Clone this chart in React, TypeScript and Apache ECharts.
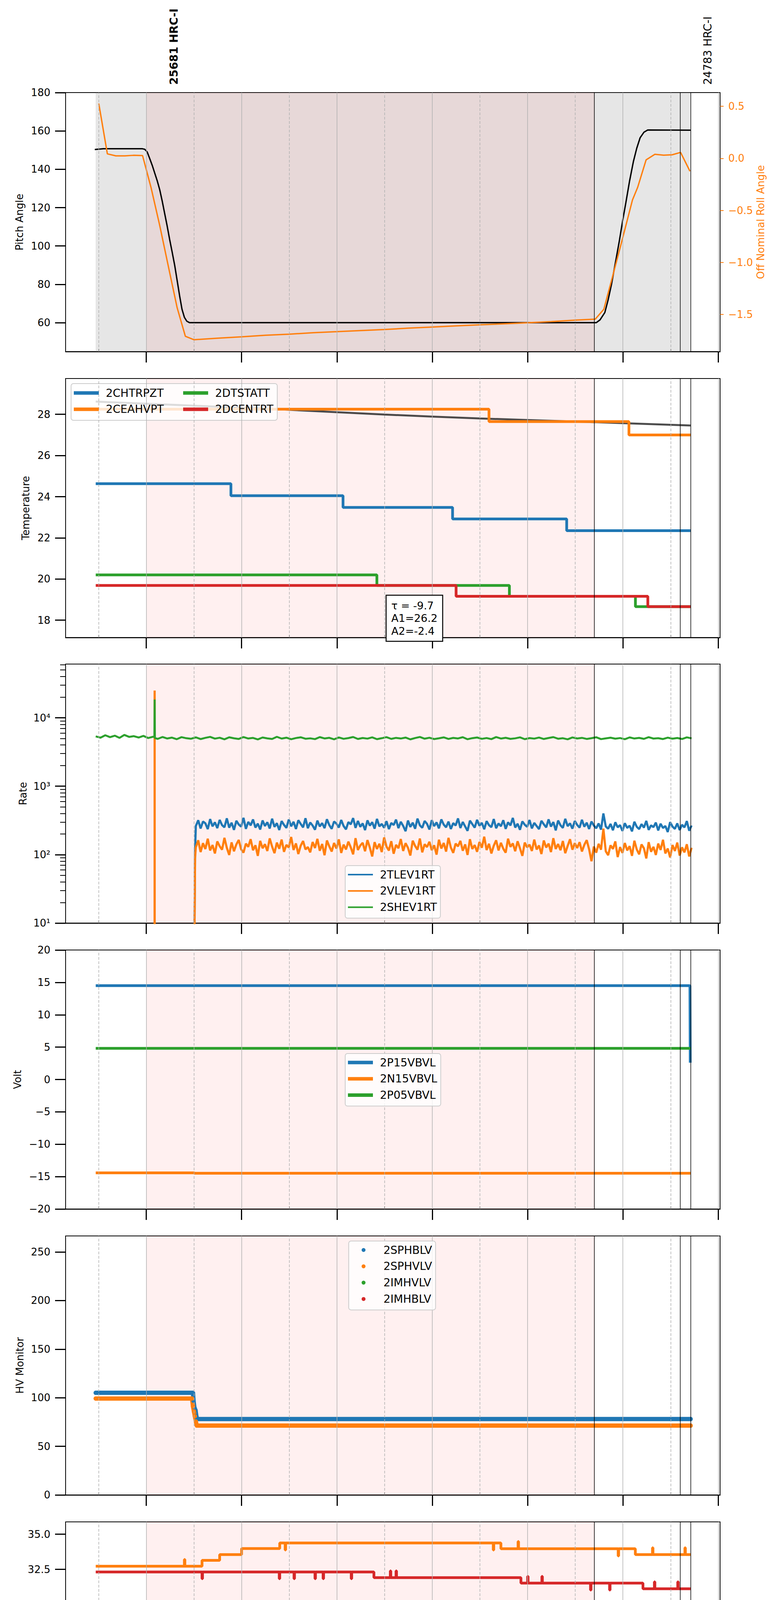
import React, { useEffect, useRef } from "react";
import * as echarts from "echarts";

const FONT = "DejaVu Sans";
const BLUE = "#1f77b4";
const ORANGE = "#ff7f0e";
const GREEN = "#2ca02c";
const RED = "#d62728";

// time axis: hours relative to 2021-08-12 00:00 (day 224)
const X_MIN = -0.846;
const X_MAX = 6.019;
const HOUR_TICKS = [0, 1, 2, 3, 4, 5, 6];
const HALF_TICKS = [-0.5, 0.5, 1.5, 2.5, 3.5, 4.5, 5.5];
const SLEW_SPAN = [-0.531, 5.705];
const OBS_SPAN = [0, 4.704];
const EVENT_TIMES = [4.704, 5.601, 5.705];
const OBS_NAMES = ["25681 HRC-I", "24783 HRC-I"];

// panel 1: pitch / off nominal roll
const PITCH = [[-0.54, 150.3], [-0.45, 150.7], [-0.04, 150.7], [-0.015, 150.4], [0.01, 149], [0.037, 145.5], [0.063, 142], [0.089, 138], [0.115, 134], [0.141, 129.4], [0.167, 123.5], [0.193, 117], [0.219, 110.5], [0.245, 103.5], [0.271, 97], [0.298, 90], [0.324, 82], [0.35, 74], [0.375, 67], [0.4, 62.8], [0.425, 60.8], [0.455, 60], [4.72, 60], [4.76, 61.5], [4.81, 65.3], [4.845, 72], [4.88, 80], [4.92, 91], [4.96, 102], [5.0, 114], [5.03, 122.4], [5.07, 134], [5.11, 144.1], [5.145, 151], [5.18, 156.4], [5.22, 159.3], [5.26, 160.5], [5.71, 160.4]];
const ROLL = [[-0.498, 0.527], [-0.408, 0.043], [-0.319, 0.024], [-0.224, 0.024], [-0.135, 0.029], [-0.039, 0.027], [0.05, -0.28], [0.14, -0.64], [0.245, -1.095], [0.324, -1.436], [0.41, -1.71], [0.5, -1.743], [0.75, -1.728], [1.0, -1.715], [1.25, -1.7], [1.5, -1.69], [1.75, -1.676], [2.0, -1.666], [2.25, -1.655], [2.5, -1.645], [2.75, -1.632], [3.0, -1.621], [3.25, -1.61], [3.5, -1.6], [3.75, -1.59], [4.0, -1.58], [4.25, -1.569], [4.5, -1.555], [4.71, -1.545], [4.8, -1.45], [4.89, -1.14], [5.0, -0.755], [5.1, -0.4], [5.154, -0.28], [5.243, -0.015], [5.335, 0.039], [5.427, 0.03], [5.516, 0.034], [5.605, 0.057], [5.703, -0.124]];
const PITCH_TICKS = [60, 80, 100, 120, 140, 160, 180];
const ROLL_TICKS = [-1.5, -1, -0.5, 0, 0.5];

// panel 2: temperature
const CHTRPZT = [[-0.53, 24.63], [0.888, 24.05], [2.064, 23.48], [3.213, 22.92], [4.41, 22.35], [5.71, 22.35]];
const CEAHVPT = [[-0.53, 28.25], [3.595, 27.65], [5.063, 27.0], [5.71, 27.0]];
const DTSTATT = [[-0.53, 20.2], [2.419, 19.69], [3.809, 19.16], [5.131, 18.66], [5.71, 18.66]];
const DCENTRT = [[-0.53, 19.69], [3.25, 19.16], [5.261, 18.66], [5.71, 18.66]];
const TEMP_FIT = [[-0.53, 28.62], [0.5, 28.42], [1.5, 28.22], [2.5, 27.99], [3.5, 27.8], [4.5, 27.65], [5.71, 27.46]];
const FIT_TEXT = ["τ = -9.7", "A1=26.2", "A2=-2.4"];
const TEMP_TICKS = [18, 20, 22, 24, 26, 28];

// panel 3: rates (evenly sampled)
const RATE_T0 = 0.52;
const RATE_DT = 0.025;
const TLEV1RT = [
  262, 318, 241, 305, 287, 236, 331, 259, 297, 244,
  322, 270, 251, 339, 248, 293, 230, 312, 276, 256,
  345, 238, 301, 268, 327, 249, 284, 233, 316, 262,
  297, 241, 335, 255, 288, 229, 309, 272, 246, 326,
  259, 302, 237, 318, 281, 250, 340, 243, 295, 266,
  231, 314, 258, 289, 244, 329, 270, 238, 305, 284,
  249, 321, 262, 234, 299, 277, 342, 246, 311, 255,
  286, 228, 317, 265, 298, 240, 333, 259, 281, 247,
  308, 236, 290, 271, 325, 244, 302, 263, 220, 315,
  254, 293, 239, 336, 268, 247, 310, 282, 233, 319,
  261, 296, 242, 327, 275, 251, 304, 237, 289, 266,
  338, 245, 300, 258, 223, 314, 279, 248, 323, 264,
  292, 235, 309, 270, 252, 331, 243, 286, 260, 318,
  238, 297, 267, 344, 249, 283, 231, 306, 274, 255,
  321, 242, 291, 262, 236, 312, 278, 250, 328, 257,
  299, 226, 315, 269, 246, 334, 261, 287, 240, 310,
  272, 248, 323, 256, 293, 237, 305, 266, 243, 286,
  232, 400, 258, 239, 281, 227, 297, 251, 270, 222,
  288, 246, 265, 219, 302, 255, 236, 279, 248, 311,
  230, 268, 252, 294, 226, 283, 245, 262, 214, 299,
  257, 238, 286, 229, 273, 250, 309, 224, 266,
];
const VLEV1RT = [
  128, 162, 109, 147, 121, 171, 115, 138, 104, 156,
  133, 118, 176, 126, 99, 151, 112, 141, 164, 120,
  107, 145, 130, 168, 116, 137, 96, 159, 124, 142,
  113, 173, 131, 105, 150, 122, 166, 110, 139, 127,
  181, 117, 146, 102, 135, 158, 119, 129, 108, 153,
  125, 170, 114, 143, 98, 161, 132, 111, 148, 123,
  167, 106, 140, 119, 155, 128, 101, 174, 117, 136,
  149, 112, 163, 127, 94, 152, 121, 144, 109, 178,
  131, 115, 157, 103, 139, 124, 169, 113, 147, 126,
  97, 160, 134, 118, 172, 108, 142, 129, 154, 116,
  137, 100, 165, 123, 148, 111, 176, 127, 106, 145,
  132, 159, 114, 141, 99, 168, 121, 138, 110, 153,
  126, 183, 117, 144, 104, 135, 162, 115, 149, 122,
  107, 171, 130, 146, 112, 157, 124, 96, 150, 128,
  140, 113, 166, 119, 136, 102, 161, 127, 145, 109,
  174, 121, 143, 116, 158, 105, 134, 168, 118, 147,
  125, 152, 111, 139, 163, 120, 80, 131, 107, 144,
  118, 240, 112, 98, 137, 121, 156, 92, 129, 106,
  148, 115, 133, 96, 160, 119, 101, 141, 124, 88,
  152, 110, 130, 99, 145, 117, 165, 104, 123, 91,
  138, 113, 150, 97, 128, 108, 142, 94, 126,
];
const SHEV_T0 = -0.53;
const SHEV_DT = 0.05;
const SHEV1RT = [
  5350, 5120, 5560, 5210, 5480, 5090, 5620, 5260, 5390, 5150,
  5440, 5060, 5280, 4920, 5240, 4980, 5130, 4870, 5210, 5030,
  4940, 5170, 4890, 5090, 5260, 4960, 5110, 4850, 5190, 5020,
  4910, 5230, 4980, 5080, 4830, 5150, 5000, 4900, 5270, 4970,
  5120, 4860, 5060, 5190, 4940, 5010, 4880, 5220, 4990, 5100,
  4850, 5160, 4930, 5050, 5240, 4900, 5070, 4960, 5180, 4870,
  5030, 5210, 4920, 5090, 4980, 5140, 4840, 5060, 5250, 4950,
  5110, 4890, 5020, 5170, 4910, 5080, 4990, 5200, 4860, 5040,
  5150, 4930, 5060, 4880, 5230, 4970, 5100, 4920, 5010, 5180,
  4870, 5050, 4960, 5140, 4900, 5070, 5220, 4940, 5030, 4850,
  5160, 4990, 5090, 4910, 5040, 5190, 4880, 5000, 5120, 4950,
  5060, 4860, 5170, 4980, 5080, 4920, 5210, 4970, 5030, 4890,
  5130, 4950, 5070, 4900, 5180, 5010,
];
const TLEV_EXTRA = [[0.505, 5], [0.512, 110]];
const VLEV_EXTRA = [[0.0875, 5], [0.088, 25000], [0.0885, 5], [0.089, "-"], [0.505, 5], [0.512, 90]];
const SHEV_EXTRA = [[0.085, 5250], [0.088, 18500], [0.091, 5050]];
const RATE_TICKS = [10, 100, 1000, 10000];
const RATE_MINOR = [20, 30, 40, 50, 60, 70, 80, 90, 200, 300, 400, 500, 600, 700, 800, 900, 2000, 3000, 4000, 5000, 6000, 7000, 8000, 9000, 20000, 30000, 40000, 50000, 60000];
const SUPERSCRIPT = ["⁰", "¹", "²", "³", "⁴", "⁵"];

// panel 4: volts
const P15VBVL = [[-0.53, 14.5], [5.703, 14.5], [5.706, 2.6]];
const N15VBVL = [[-0.53, -14.42], [0.5, -14.42], [0.51, -14.48], [5.71, -14.48]];
const P05VBVL = [[-0.53, 4.81], [5.71, 4.81]];
const VOLT_TICKS = [-20, -15, -10, -5, 0, 5, 10, 15, 20];

// panel 5: HV monitor
const SPHBLV = [[-0.53, 105.1], [0.49, 105.1], [0.496, 96.9], [0.505, 90], [0.517, 87], [0.525, 81.4], [0.533, 78.1], [5.71, 78.1]];
const SPHVLV = [[-0.53, 99.2], [0.48, 99.2], [0.49, 91.1], [0.5, 86], [0.51, 81], [0.52, 75.7], [0.53, 71.3], [5.71, 71.3]];
const IMHVLV: number[][] = [];
const IMHBLV: number[][] = [];
const HV_TICKS = [0, 50, 100, 150, 200, 250];

// panel 6: detector temperatures
const SPINATM = [[-0.53, 18.96], [4.79, 18.31], [5.71, 18.31]];
const SPHVATM = [[-0.53, 32.72], [0.4, 33.2], [0.405, 32.72], [0.585, 33.14], [0.77, 33.55], [1.0, 33.98], [1.4, 34.38], [1.457, 33.88], [1.462, 34.38], [3.64, 33.88], [3.645, 34.38], [3.72, 33.97], [3.9, 34.48], [3.905, 33.97], [4.95, 33.45], [4.955, 33.97], [5.13, 33.55], [5.31, 34.04], [5.315, 33.55], [5.65, 34.04], [5.655, 33.55], [5.71, 33.55]];
const IMINATM = [[-0.53, 20.33], [2.02, 19.63], [4.65, 18.96], [4.77, 19.72], [4.775, 18.96], [5.71, 18.96]];
const IMHVATM = [[-0.53, 32.31], [0.585, 31.83], [0.59, 32.31], [1.395, 31.83], [1.4, 32.31], [1.55, 31.83], [1.555, 32.31], [1.77, 31.83], [1.775, 32.31], [1.855, 31.83], [1.86, 32.31], [2.15, 31.83], [2.155, 32.31], [2.388, 31.91], [2.56, 32.39], [2.565, 31.91], [2.62, 32.39], [2.625, 31.91], [3.93, 31.52], [4.0, 32.0], [4.005, 31.52], [4.15, 32.0], [4.155, 31.52], [4.66, 31.03], [4.665, 31.52], [4.86, 31.03], [4.865, 31.52], [5.21, 31.12], [5.33, 31.61], [5.335, 31.12], [5.575, 31.61], [5.58, 31.12], [5.71, 31.12]];
const DET_TICKS = [17.5, 20, 22.5, 25, 27.5, 30, 32.5, 35];

// panel 7: FEA temperatures
const FHTRMZT = [[-0.53, 22.91], [0.987, 22.36], [1.876, 21.83], [2.785, 21.29], [3.72, 20.73], [4.765, 20.21], [5.71, 20.21]];
const FRADPYT = [[-0.53, 18.15], [-0.46, 18.67], [0.334, 18.15], [0.653, 17.66], [1.097, 17.15], [1.735, 16.67], [2.48, 16.18], [3.286, 15.71], [4.216, 15.24], [5.277, 15.71], [5.564, 16.18], [5.71, 16.18]];
const FEPRATM = [[-0.53, 24.63], [1.358, 23.88], [2.743, 23.13], [4.164, 22.4], [5.71, 22.4]];
const FE00ATM = [[-0.53, 22.66], [0.705, 23.35], [0.71, 22.66], [0.731, 23.03], [0.736, 22.66], [0.81, 22.29], [0.815, 22.66], [0.852, 21.97], [0.857, 22.66], [0.925, 22.34], [1.249, 21.97], [1.254, 22.34], [1.604, 22.02], [1.97, 20.73], [1.975, 22.02], [2.268, 21.72], [2.947, 21.39], [3.276, 20.13], [3.281, 21.39], [3.537, 22.06], [3.542, 21.39], [3.579, 21.03], [3.584, 21.39], [3.642, 21.09], [3.668, 21.76], [3.673, 21.09], [3.683, 20.43], [3.688, 21.09], [3.736, 21.46], [3.741, 21.09], [3.798, 20.73], [3.803, 21.09], [3.94, 20.73], [3.945, 21.09], [3.971, 21.76], [3.976, 21.09], [4.007, 22.06], [4.012, 21.09], [4.211, 20.73], [4.216, 21.09], [4.4, 20.79], [5.157, 20.43], [5.162, 20.79], [5.199, 20.43], [5.204, 20.79], [5.251, 20.43], [5.256, 20.79], [5.277, 21.13], [5.282, 20.79], [5.293, 20.43], [5.298, 20.79], [5.703, 20.79], [5.706, 20.21]];
const FEA_TICKS = [16, 18, 20, 22, 24];

const GRID_TOP = [237, 969, 1700, 2432, 3164, 3896, 4628];
const GRID_H = 663;
const Y_OF_GRID = [0, 2, 3, 5, 6, 7, 8];

const hourLabel = (v: number) => String(Math.round(v)).padStart(2, "0") + "h";
const minusFmt = (d: number) => (v: number) => (v < 0 ? "\u2212" : "") + Math.abs(v).toFixed(d);

const sampled = (t0: number, dt: number, vals: number[], extra: any[]) =>
  extra.concat(vals.map((v, i) => [Math.round((t0 + i * dt) * 10000) / 10000, v])).sort((a, b) => a[0] - b[0]);

const leftAxis = (gi: number, name: string, min: number, max: number, ticks: number[], fmt: any, gap: number, extra: any = {}) => ({
  type: "value", gridIndex: gi, position: "left", min, max, name,
  nameLocation: "middle", nameGap: gap, nameMoveOverlap: false,
  nameTextStyle: { fontSize: 26, color: "#000", fontFamily: FONT },
  axisLine: { show: true, onZero: false, lineStyle: { color: "#000", width: 2 } },
  axisTick: { show: true, customValues: ticks, length: 27, lineStyle: { color: "#000", width: 3 } },
  axisLabel: { show: true, customValues: ticks, formatter: fmt, fontSize: 26, color: "#000", fontFamily: FONT, margin: 39 },
  splitLine: { show: false },
  ...extra,
});

const line = (name: string, data: any[], color: string, gi: number, yi: number, width: number, extra: any = {}) => ({
  type: "line", name, data, xAxisIndex: gi * 2, yAxisIndex: yi,
  showSymbol: false, symbol: "none", silent: true, z: 3,
  lineStyle: { color, width }, itemStyle: { color }, emphasis: { disabled: true },
  ...extra,
});

const legend = (data: string[], left: number, top: number, opts: any = {}) => ({
  show: true, orient: "vertical", left, top, data, selectedMode: false, z: 6,
  icon: opts.icon || "rect", itemWidth: opts.iw || 64, itemHeight: opts.ih || 9, itemGap: 11.8,
  padding: [8, 9, 13, opts.padL || 7],
  backgroundColor: opts.noBox ? "transparent" : "rgba(255,255,255,0.8)",
  borderColor: opts.noBox ? "transparent" : "#cccccc",
  borderWidth: opts.noBox ? 0 : 2, borderRadius: 6,
  textStyle: { fontSize: 28, color: "#000", fontFamily: FONT, lineHeight: 30, padding: [0, 0, 0, opts.textPad || 13] },
});

const App = () => {
  const chartRef = useRef<HTMLDivElement>(null);

  useEffect(() => {
    document.body.style.margin = "0";
    const chartDom = chartRef.current;
    if (!chartDom) return;
    const myChart = echarts.init(chartDom, null, { renderer: "svg" });

    const grid = GRID_TOP.map((top) => ({
      left: 168, width: 1676, top, height: GRID_H,
      show: true, borderColor: "#000", borderWidth: 2, backgroundColor: "transparent",
      containLabel: false, outerBoundsMode: "none",
    }));

    const xAxis: any[] = [];
    GRID_TOP.forEach((_, i) => {
      xAxis.push({
        type: "value", gridIndex: i, min: X_MIN, max: X_MAX, position: "bottom",
        axisLine: { show: true, onZero: false, lineStyle: { color: "#000", width: 2.5 } },
        axisTick: { show: true, customValues: HOUR_TICKS, length: 28, lineStyle: { color: "#000", width: 3 } },
        axisLabel: { show: i === 6, customValues: HOUR_TICKS, formatter: hourLabel, fontSize: 27, color: "#000", fontFamily: FONT, margin: 35 },
        splitLine: { show: false },
      });
      xAxis.push({
        type: "value", gridIndex: i, min: X_MIN, max: X_MAX, position: "bottom",
        axisLine: { show: false, onZero: false },
        axisTick: { show: true, inside: true, customValues: HALF_TICKS, length: 7, lineStyle: { color: "#000", width: 1.5 } },
        axisLabel: { show: i === 6, customValues: HALF_TICKS, formatter: () => "30", fontSize: 16, color: "#000", fontFamily: FONT, margin: 6 },
        splitLine: { show: false },
      });
    });

    const intFmt = (v: number) => String(v);
    const yAxis: any[] = [
      leftAxis(0, "Pitch Angle", 44.95, 180, PITCH_TICKS, intFmt, 105),
      {
        type: "value", gridIndex: 0, position: "right", min: -1.857, max: 0.632,
        name: "Off Nominal Roll Angle", nameLocation: "middle", nameGap: 91, nameMoveOverlap: false,
        nameTextStyle: { fontSize: 26, color: ORANGE, fontFamily: FONT },
        axisLine: { show: true, onZero: false, lineStyle: { color: "#000", width: 2 } },
        axisTick: { show: true, customValues: ROLL_TICKS, length: 9, lineStyle: { color: ORANGE, width: 2 } },
        axisLabel: { show: true, customValues: ROLL_TICKS, formatter: minusFmt(1), fontSize: 26, color: ORANGE, fontFamily: FONT, margin: 21 },
        splitLine: { show: false },
      },
      leftAxis(1, "Temperature", 17.16, 29.74, TEMP_TICKS, intFmt, 89),
      leftAxis(2, "Rate", 10, 61000, RATE_TICKS, (v: number) => "10" + SUPERSCRIPT[Math.round(Math.log10(v))], 96, { type: "log", logBase: 10 }),
      {
        type: "log", logBase: 10, gridIndex: 2, position: "left", min: 10, max: 61000,
        axisLine: { show: false, onZero: false },
        axisTick: { show: true, customValues: RATE_MINOR, length: 14, lineStyle: { color: "#000", width: 2 } },
        axisLabel: { show: false },
        splitLine: { show: false },
      },
      leftAxis(3, "Volt", -20, 20, VOLT_TICKS, minusFmt(0), 110),
      leftAxis(4, "HV Monitor", 0, 266.5, HV_TICKS, intFmt, 104),
      leftAxis(5, "Detector Temp", 17.44, 35.88, DET_TICKS, minusFmt(1), 112),
      leftAxis(6, "FEA Temp", 14.21, 25.36, FEA_TICKS, intFmt, 85),
    ];

    const decor = GRID_TOP.map((_, i) => {
      const areas: any[] = [];
      if (i === 0) {
        areas.push([{ xAxis: SLEW_SPAN[0], itemStyle: { color: "rgba(128,128,128,0.2)" } }, { xAxis: SLEW_SPAN[1] }]);
      }
      areas.push([{ xAxis: OBS_SPAN[0], itemStyle: { color: "rgba(255,0,0,0.06)" } }, { xAxis: OBS_SPAN[1] }]);
      const lines: any[] = [
        ...HOUR_TICKS.map((h) => ({ xAxis: h, lineStyle: { color: "#b0b0b0", width: 1.5, type: "solid" } })),
        ...HALF_TICKS.map((h) => ({ xAxis: h, lineStyle: { color: "#b0b0b0", width: 1.5, type: [7, 4] } })),
        ...EVENT_TIMES.map((h) => ({ xAxis: h, lineStyle: { color: "#000", width: 1.5, type: "solid" } })),
      ];
      return {
        type: "line", data: [], xAxisIndex: i * 2, yAxisIndex: Y_OF_GRID[i], silent: true, z: 1,
        markArea: { silent: true, data: areas },
        markLine: { silent: true, symbol: ["none", "none"], label: { show: false }, emphasis: { disabled: true }, data: lines },
      };
    });

    const hv = (name: string, data: any[], color: string) =>
      line(name, data, color, 4, 6, 11, { showSymbol: true, symbol: "circle", symbolSize: 11, lineStyle: { color, width: 11, cap: "round" } });

    const series: any[] = [
      ...decor,
      line("Pitch", PITCH, "#000", 0, 0, 3.5),
      line("Roll", ROLL, ORANGE, 0, 1, 3.5),
      line("fit", TEMP_FIT, "rgba(45,45,45,0.85)", 1, 2, 5, { smooth: 0.3 }),
      line("2CHTRPZT", CHTRPZT, BLUE, 1, 2, 7, { step: "end" }),
      line("2CEAHVPT", CEAHVPT, ORANGE, 1, 2, 7, { step: "end" }),
      line("2DTSTATT", DTSTATT, GREEN, 1, 2, 7, { step: "end" }),
      line("2DCENTRT", DCENTRT, RED, 1, 2, 7, { step: "end" }),
      line("2TLEV1RT", sampled(RATE_T0, RATE_DT, TLEV1RT, TLEV_EXTRA), BLUE, 2, 3, 5.5),
      line("2VLEV1RT", sampled(RATE_T0, RATE_DT, VLEV1RT, VLEV_EXTRA), ORANGE, 2, 3, 5.5),
      line("2SHEV1RT", sampled(SHEV_T0, SHEV_DT, SHEV1RT, SHEV_EXTRA), GREEN, 2, 3, 5),
      line("2P15VBVL", P15VBVL, BLUE, 3, 5, 7),
      line("2N15VBVL", N15VBVL, ORANGE, 3, 5, 7),
      line("2P05VBVL", P05VBVL, GREEN, 3, 5, 7),
      hv("2SPHBLV", SPHBLV, BLUE),
      hv("2SPHVLV", SPHVLV, ORANGE),
      hv("2IMHVLV", IMHVLV, GREEN),
      hv("2IMHBLV", IMHBLV, RED),
      line("2SPINATM", SPINATM, BLUE, 5, 7, 7, { step: "end" }),
      line("2SPHVATM", SPHVATM, ORANGE, 5, 7, 7, { step: "end" }),
      line("2IMINATM", IMINATM, GREEN, 5, 7, 7, { step: "end" }),
      line("2IMHVATM", IMHVATM, RED, 5, 7, 7, { step: "end" }),
      line("2FHTRMZT", FHTRMZT, BLUE, 6, 8, 7, { step: "end" }),
      line("2FRADPYT", FRADPYT, ORANGE, 6, 8, 7, { step: "end" }),
      line("2FEPRATM", FEPRATM, GREEN, 6, 8, 7, { step: "end" }),
      line("2FE00ATM", FE00ATM, RED, 6, 8, 7, { step: "end" }),
    ];

    const legends = [
      legend(["2CHTRPZT", "2CEAHVPT"], 182, 983, { noBox: true }),
      legend(["2DTSTATT", "2DCENTRT"], 462, 983, { noBox: true }),
      legend(["2TLEV1RT", "2VLEV1RT", "2SHEV1RT"], 884, 2216, { ih: 4 }),
      legend(["2P15VBVL", "2N15VBVL", "2P05VBVL"], 884, 2697),
      legend(["2SPHBLV", "2SPHVLV", "2IMHVLV", "2IMHBLV"], 893, 3177, { icon: "circle", iw: 10, ih: 10, padL: 33, textPad: 41 }),
      legend(["2SPINATM", "2SPHVATM", "2IMINATM", "2IMHVATM"], 883, 4139),
      legend(["2FHTRMZT", "2FRADPYT", "2FEPRATM", "2FE00ATM"], 182, 5101),
    ];

    const graphic: any[] = [
      {
        type: "rect", z: 5, silent: true,
        shape: { x: 182, y: 982, width: 528, height: 94, r: 6 },
        style: { fill: "rgba(255,255,255,0.8)", stroke: "#cccccc", lineWidth: 2 },
      },
      {
        type: "text", x: 445, y: 217, rotation: Math.PI / 2, z: 7, silent: true,
        style: { text: OBS_NAMES[0], fontSize: 28, fontWeight: "bold", fontFamily: FONT, fill: "#000", align: "left", verticalAlign: "middle", textAlign: "left", textVerticalAlign: "middle" },
      },
      {
        type: "text", x: 1812, y: 217, rotation: Math.PI / 2, z: 7, silent: true,
        style: { text: OBS_NAMES[1], fontSize: 28, fontFamily: FONT, fill: "#000", align: "left", verticalAlign: "middle", textAlign: "left", textVerticalAlign: "middle" },
      },
      {
        type: "text", x: 990, y: 1525, z: 7, silent: true,
        style: {
          text: FIT_TEXT.join("\n"), fontSize: 27, fontFamily: FONT, fill: "#000", lineHeight: 32.5,
          backgroundColor: "#ffffff", borderColor: "#000", borderWidth: 2.5, padding: [9, 12, 9, 12],
          align: "left", verticalAlign: "top", textAlign: "left", textVerticalAlign: "top",
        },
      },
      {
        type: "text", x: 1006, y: 5378, z: 7, silent: true,
        style: { text: "2021-08-12 (224)", fontSize: 28, fontFamily: FONT, fill: "#000", align: "center", verticalAlign: "middle", textAlign: "center", textVerticalAlign: "middle" },
      },
    ];

    const option = {
      animation: false,
      backgroundColor: "#ffffff",
      textStyle: { fontFamily: FONT },
      grid,
      xAxis,
      yAxis,
      legend: legends,
      series,
      graphic,
    };

    myChart.setOption(option as any);

    const contentSize = function () {
      myChart.resize();
    };
    window.addEventListener("resize", contentSize, false);

    return () => {
      myChart.dispose();
      window.removeEventListener("resize", contentSize, false);
    };
  }, []);

  return <div ref={chartRef} style={{ width: 2000, height: 5400 }}></div>;
};

export default App;
